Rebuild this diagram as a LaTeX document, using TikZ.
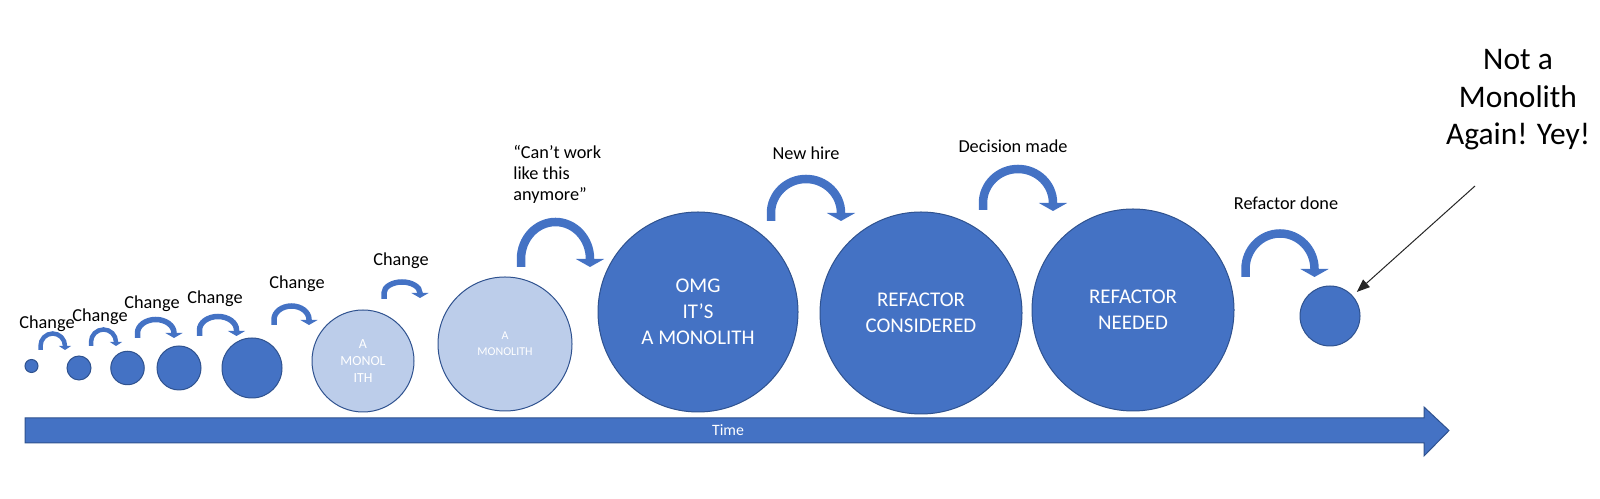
\documentclass[tikz,border=0pt]{standalone}
\usepackage{fontspec}
\setmainfont{Carlito}
\usetikzlibrary{arrows.meta}
\definecolor{mainblue}{HTML}{4472C4}
\definecolor{edgeblue}{HTML}{2F528F}
\definecolor{paleblue}{HTML}{BCCDEA}

\begin{document}
\begin{tikzpicture}[
        x = 0.2mm, y = 0.2mm,
        blob/.style = {circle, draw = edgeblue, fill = mainblue, line width = 0.2mm, inner sep = 0mm, text = white, align = center},
        pale/.style = {blob, fill = paleblue},
        big/.style = {blob, minimum size = 40.4mm, font = \fontsize{11.9}{14.7}\selectfont},
        lbl/.style = {inner sep = 0mm, anchor = base, font = \fontsize{10.4}{12.2}\selectfont},
        hop/.style = {draw = mainblue, line width = 0.9mm, -{Triangle[width = 2.4mm, length = 0.8mm]}},
        midhop/.style = {hop, line width = 1.1mm, -{Triangle[width = 3.4mm, length = 1mm]}},
        bighop/.style = {hop, line width = 1.7mm, -{Triangle[width = 5.6mm, length = 1.6mm]}},
    ]
    \useasboundingbox (0,0) rectangle (1600,499);

    % time line
    \fill[mainblue, draw = edgeblue, line width = 0.2mm] (25,81) -- (1424,81) -- (1424,92) -- (1449,68.5)
        -- (1424,43) -- (1424,56) -- (25,56) -- cycle;
    \node (time) [inner sep = 0mm, text = white, font = \fontsize{9}{10}\selectfont] at (728,68.5) {Time};

    % growing code base
    \node (c1) [blob, minimum size = 2.6mm] at (31.5,133){};
    \node (c2) [blob, minimum size = 4.8mm] at (79,131){};
    \node (c3) [blob, minimum size = 6.7mm] at (127.5,131){};
    \node (c4) [blob, minimum size = 8.8mm] at (179,131){};
    \node (c5) [blob, minimum size = 12mm] at (252,131){};
    \node (mono1) [pale, minimum size = 20.4mm, font = \fontsize{7.9}{9.6}\selectfont] at (363,138) {A\\MONOL\\ITH};
    \node (mono2) [pale, minimum size = 26.8mm, font = \fontsize{6.8}{9.1}\selectfont] at (505,155) {A\\MONOLITH};
    \node (omg) [big, minimum size = 40mm] at (698,187) {OMG\\IT’S\\A MONOLITH};
    \node (considered) [big] at (921,186) {REFACTOR\\CONSIDERED};
    \node (needed) [big] at (1133,189) {REFACTOR\\NEEDED};
    \node (done) [blob, minimum size = 12mm] at (1330,183){};

    % hops between stages
    \coordinate (h1) at (40.5,149);
    \coordinate (h2) at (91,153);
    \coordinate (h3) at (137.5,161);
    \coordinate (h4) at (199.5,163);
    \coordinate (h5) at (274,174);
    \coordinate (h6) at (384,200);
    \coordinate (h7) at (521,232);
    \coordinate (h8) at (771,278);
    \coordinate (h9) at (983,289);
    \coordinate (h10) at (1245.5,222);

    \path[hop] (h1) -- ++(0,4) arc[start angle = 180, end angle = 0, x radius = 12.25, y radius = 12.5] -- ++(0,-4);
    \path[hop] (h2) -- ++(0,4) arc[start angle = 180, end angle = 0, x radius = 12.5, y radius = 12.5] -- ++(0,-4);
    \path[midhop] (h3) -- ++(0,5) arc[start angle = 180, end angle = 0, x radius = 18.25, y radius = 13.5] -- ++(0,-5);
    \path[midhop] (h4) -- ++(0,6) arc[start angle = 180, end angle = 0, x radius = 18.5, y radius = 13.5] -- ++(0,-6);
    \path[midhop] (h5) -- ++(0,5.5) arc[start angle = 180, end angle = 0, x radius = 17.5, y radius = 13.5] -- ++(0,-5.5);
    \path[midhop] (h6) -- ++(0,6) arc[start angle = 180, end angle = 0, x radius = 18, y radius = 11] -- ++(0,-5);
    \path[bighop] (h7) -- ++(0,8) arc[start angle = 180, end angle = 0, x radius = 34.5, y radius = 37] -- ++(0,-8);
    \path[bighop] (h8) -- ++(0,8) arc[start angle = 180, end angle = 0, x radius = 35, y radius = 34] -- ++(0,-8);
    \path[bighop] (h9) -- ++(0,7) arc[start angle = 180, end angle = 0, x radius = 35, y radius = 34] -- ++(0,-8);
    \path[bighop] (h10) -- ++(0,8) arc[start angle = 180, end angle = 0, x radius = 34.5, y radius = 35.5] -- ++(0,-8);

    % labels
    \node (l1) [lbl] at (47,170.7) {Change};
    \node (l2) [lbl] at (100,177.3) {Change};
    \node (l3) [lbl] at (152,190.7) {Change};
    \node (l4) [lbl] at (215,195.7) {Change};
    \node (l5) [lbl] at (297,210.7) {Change};
    \node (l6) [lbl] at (401,233) {Change};
    \node (quote) [lbl, anchor = base west, align = left] at (513,298) {“Can’t work\\like this\\anymore”};
    \node (hire) [lbl] at (806,339.7) {New hire};
    \node (decision) [lbl] at (1013,346.3) {Decision made};
    \node (refdone) [lbl] at (1286,289.7) {Refactor done};

    \node (yey) [inner sep = 0mm, align = center, font = \fontsize{17.9}{21.3}\selectfont] at (1518,399) {Not a\\Monolith\\Again! Yey!};
    \coordinate (pointer) at (1475,313);
    \draw[black!85, line width = 0.2mm, -{Triangle[width = 2mm, length = 2.6mm]}, shorten > = 1.1mm] (pointer) -- (done);
\end{tikzpicture}
\end{document}
